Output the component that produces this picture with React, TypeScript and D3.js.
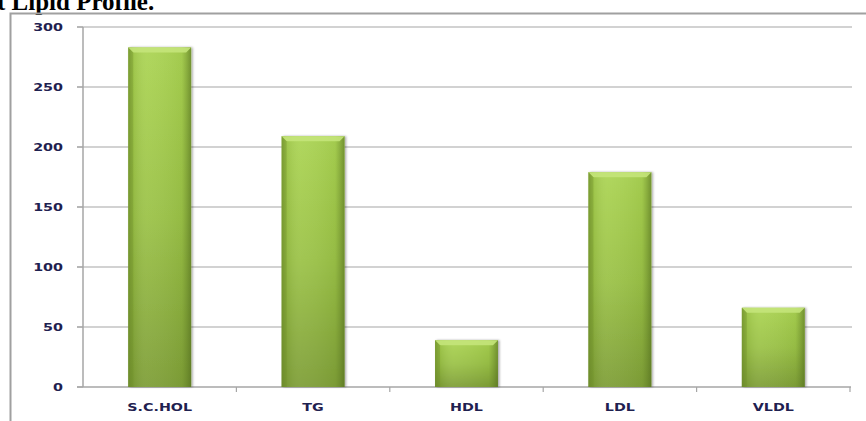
import React from "react";
import * as d3 from "d3";

const categories = ["S.C.HOL", "TG", "HDL", "LDL", "VLDL"];
const values = [283, 209, 39, 179, 66];
const yTicks = [0, 50, 100, 150, 200, 250, 300];

const W = 866;
const H = 421;
const left = 83;
const right = 850;
const top = 27;
const bottom = 387;

export default function App() {
  const x = d3.scaleBand<string>().domain(categories).range([left, right]).paddingInner(0.59).paddingOuter(0.295);
  const xb = d3.scaleBand<string>().domain(categories).range([left, right]);
  const y = d3.scaleLinear().domain([0, 300]).range([bottom, top]);
  const bw = x.bandwidth();
  const labelFont = "'DejaVu Sans', Verdana, sans-serif";
  const bev = 5;
  const sx = 1.3;
  return (
    <svg width={W} height={H} style={{ position: "absolute", left: 0, top: 0, background: "#fff" }}>
      <defs>
        <linearGradient id="gv" x1="0" y1="0" x2="0" y2="1">
          <stop offset="0" stopColor="#abd453" />
          <stop offset="0.5" stopColor="#9bc247" />
          <stop offset="1" stopColor="#7e9e37" />
        </linearGradient>
        <linearGradient id="gh" x1="0" y1="0" x2="1" y2="0">
          <stop offset="0" stopColor="#5d7a22" stopOpacity="0.55" />
          <stop offset="0.08" stopColor="#5d7a22" stopOpacity="0.15" />
          <stop offset="0.3" stopColor="#ffffff" stopOpacity="0.06" />
          <stop offset="0.85" stopColor="#5d7a22" stopOpacity="0.1" />
          <stop offset="1" stopColor="#4c661a" stopOpacity="0.6" />
        </linearGradient>
        <filter id="sh" x="-20%" y="-5%" width="140%" height="110%">
          <feDropShadow dx="1.5" dy="0" stdDeviation="1.2" floodColor="#000" floodOpacity="0.35" />
        </filter>
      </defs>
      <text x={-3} y={10} fontFamily="'Liberation Serif', 'Times New Roman', serif" fontWeight="bold" fontSize={25} fill="#000">
        t Lipid Profile.
      </text>
      <path d={`M10.5,${H} V13.5 H${W}`} fill="none" stroke="#a0a0a0" strokeWidth={2} />
      {yTicks.map((t) => (
        <g key={t}>
          {t > 0 && <line x1={77} x2={852} y1={y(t)} y2={y(t)} stroke="#a6a6a6" strokeWidth={1.2} />}
          <line x1={77} x2={83} y1={y(t)} y2={y(t)} stroke="#a6a6a6" strokeWidth={1.2} />
          <text transform={`translate(63,${y(t)}) scale(${sx},1)`} dy="0.35em" textAnchor="end" fontFamily={labelFont} fontWeight="bold" fontSize={11} fill="#1f2150">
            {t}
          </text>
        </g>
      ))}
      <line x1={83} x2={83} y1={top} y2={bottom} stroke="#a6a6a6" strokeWidth={1.5} />
      <line x1={77} x2={851} y1={bottom} y2={bottom} stroke="#a6a6a6" strokeWidth={1.5} />
      {categories.map((c, i) => (
        <line key={"t" + i} x1={(xb(c) as number) + xb.bandwidth()} x2={(xb(c) as number) + xb.bandwidth()} y1={bottom} y2={bottom + 5} stroke="#a6a6a6" strokeWidth={1.2} />
      ))}
      {categories.map((c, i) => {
        const x0 = x(c) as number;
        const y0 = y(values[i]);
        const h = bottom - y0;
        return (
          <g key={c}>
            <rect x={x0} y={y0} width={bw} height={h} fill="url(#gv)" filter="url(#sh)" />
            <rect x={x0} y={y0} width={bw} height={h} fill="url(#gh)" />
            <path d={`M${x0},${y0} L${x0 + bw},${y0} L${x0 + bw - bev},${y0 + bev} L${x0 + bev},${y0 + bev} Z`} fill="#c4e47a" opacity={0.9} />
            <path d={`M${x0},${y0} L${x0 + bev},${y0 + bev} L${x0 + bev},${bottom} L${x0},${bottom} Z`} fill="#6f8f2b" opacity={0.35} />
            <text transform={`translate(${x0 + bw / 2},407) scale(${sx},1)`} dy="0.35em" textAnchor="middle" fontFamily={labelFont} fontWeight="bold" fontSize={11} fill="#1f2150">
              {c}
            </text>
          </g>
        );
      })}
    </svg>
  );
}
